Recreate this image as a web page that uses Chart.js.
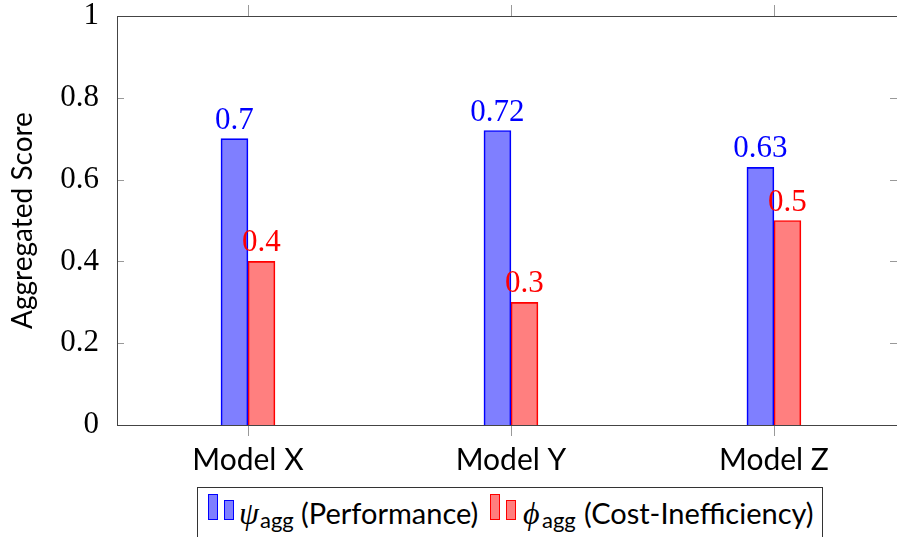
<!DOCTYPE html>
<html>
<head>
<meta charset="utf-8">
<script src="https://cdn.jsdelivr.net/npm/chart.js@4/dist/chart.umd.min.js"></script>
<style>
  html, body { margin: 0; padding: 0; background: #fff; }
  #wrap { position: relative; width: 897px; height: 537px; overflow: hidden; }
  #chart { position: absolute; left: 0; top: 0; }
  #legend {
    position: absolute; left: 197px; top: 487px; width: 626px; height: 70px;
    border: 1px solid #333; box-sizing: border-box; background: #fff;
    font-family: Lato, sans-serif; font-size: 29px; color: #000;
  }
  .sw { position: absolute; box-sizing: border-box; width: 10px; border-width: 1px; border-style: solid; }
  .sw.psi { background: rgba(0,0,255,0.5); border-color: #0000ff; }
  .sw.phi { background: rgba(255,0,0,0.5); border-color: #ff0000; }
  .t { position: absolute; top: 0; white-space: nowrap; line-height: 50px; }
  .sym { font-family: "Liberation Serif", serif; font-style: italic; font-size: 32px; }
  .sub { font-size: 22px; top: 7px; }
</style>
</head>
<body>
<div id="wrap">
  <canvas id="chart" width="897" height="537"></canvas>
  <div id="legend">
    <div class="sw psi" style="left:10px; top:6px; height:26px;"></div>
    <div class="sw psi" style="left:26px; top:12px; height:20px;"></div>
    <div class="t sym" style="left:41px;">ψ</div>
    <div class="t sub" style="left:62px;">agg</div>
    <div class="t" style="left:103px;">(Performance)</div>
    <div class="sw phi" style="left:292px; top:6px; height:26px;"></div>
    <div class="sw phi" style="left:308px; top:12px; height:20px;"></div>
    <div class="t sym" style="left:325px;">ϕ</div>
    <div class="t sub" style="left:344px;">agg</div>
    <div class="t" style="left:386px;">(Cost-Inefficiency)</div>
  </div>
</div>
<script>
// Models compared and their aggregated scores
const categories = ['Model X', 'Model Y', 'Model Z'];
const psiValues = [0.70, 0.72, 0.63];   // performance
const phiValues = [0.40, 0.30, 0.50];   // cost-inefficiency
const yTickValues = [0, 0.2, 0.4, 0.6, 0.8, 1];

const toPoints = vals => vals.map((v, i) => ({ x: i, y: v }));

// Axis box with pgfplots-style tick marks
const framePlugin = {
  id: 'frame',
  afterDraw(chart) {
    const { ctx, chartArea: a, scales } = chart;
    ctx.save();
    ctx.lineWidth = 1;
    ctx.strokeStyle = '#999';
    ctx.beginPath();
    categories.forEach((_, i) => {
      const x = Math.round(scales.x.getPixelForValue(i)) + 0.5;
      ctx.moveTo(x, a.top - 11); ctx.lineTo(x, a.top);
      ctx.moveTo(x, a.bottom); ctx.lineTo(x, a.bottom + 11);
    });
    yTickValues.forEach(v => {
      const y = Math.round(scales.y.getPixelForValue(v)) + 0.5;
      ctx.moveTo(a.left, y); ctx.lineTo(a.left + 7, y);
      ctx.moveTo(a.right - 7, y); ctx.lineTo(a.right, y);
    });
    ctx.stroke();
    ctx.strokeStyle = '#444';
    ctx.strokeRect(Math.round(a.left) + 0.5, Math.round(a.top) + 0.5,
                   Math.round(a.right - a.left), Math.round(a.bottom - a.top));
    ctx.restore();
  }
};

// Value printed above each bar
const valueLabelPlugin = {
  id: 'valueLabels',
  afterDatasetsDraw(chart) {
    const { ctx } = chart;
    ctx.save();
    ctx.font = '31px "Liberation Serif", serif';
    ctx.textAlign = 'center';
    ctx.textBaseline = 'alphabetic';
    chart.data.datasets.forEach((ds, di) => {
      ctx.fillStyle = ds.borderColor;
      chart.getDatasetMeta(di).data.forEach((bar, i) => {
        ctx.fillText(String(ds.data[i].y), bar.x, bar.y - 10);
      });
    });
    ctx.restore();
  }
};

new Chart(document.getElementById('chart'), {
  type: 'bar',
  data: {
    datasets: [
      { label: 'ψ agg (Performance)', data: toPoints(psiValues),
        backgroundColor: 'rgba(0,0,255,0.5)', borderColor: '#0000ff', borderWidth: 1, barThickness: 27 },
      { label: 'ϕ agg (Cost-Inefficiency)', data: toPoints(phiValues),
        backgroundColor: 'rgba(255,0,0,0.5)', borderColor: '#ff0000', borderWidth: 1, barThickness: 27 }
    ]
  },
  options: {
    responsive: false,
    animation: false,
    devicePixelRatio: 1,
    layout: { padding: { top: 16, right: 0, left: 0, bottom: 0 } },
    plugins: { legend: { display: false }, tooltip: { enabled: false } },
    scales: {
      x: {
        type: 'linear', min: -0.498, max: 2.468, offset: false,
        afterBuildTicks: s => { s.ticks = categories.map((_, i) => ({ value: i })); },
        afterFit: s => { s.height = 112; s.paddingLeft = 0; s.paddingRight = 0; },
        grid: { display: false }, border: { display: false },
        ticks: { callback: v => categories[v], font: { family: 'Lato', size: 30 }, color: '#000',
                 padding: 9, maxRotation: 0, autoSkip: false }
      },
      y: {
        min: 0, max: 1,
        afterBuildTicks: s => { s.ticks = yTickValues.map(v => ({ value: v })); },
        afterFit: s => { s.width = 117; s.paddingTop = 0; s.paddingBottom = 0; },
        grid: { display: false }, border: { display: false },
        ticks: { callback: v => String(v), font: { family: 'Liberation Serif', size: 31 }, color: '#000', padding: 10 },
        title: { display: true, text: 'Aggregated Score', font: { family: 'Lato', size: 28 }, color: '#000',
                 padding: { top: 6, bottom: 0 } }
      }
    }
  },
  plugins: [framePlugin, valueLabelPlugin]
});
</script>
</body>
</html>
